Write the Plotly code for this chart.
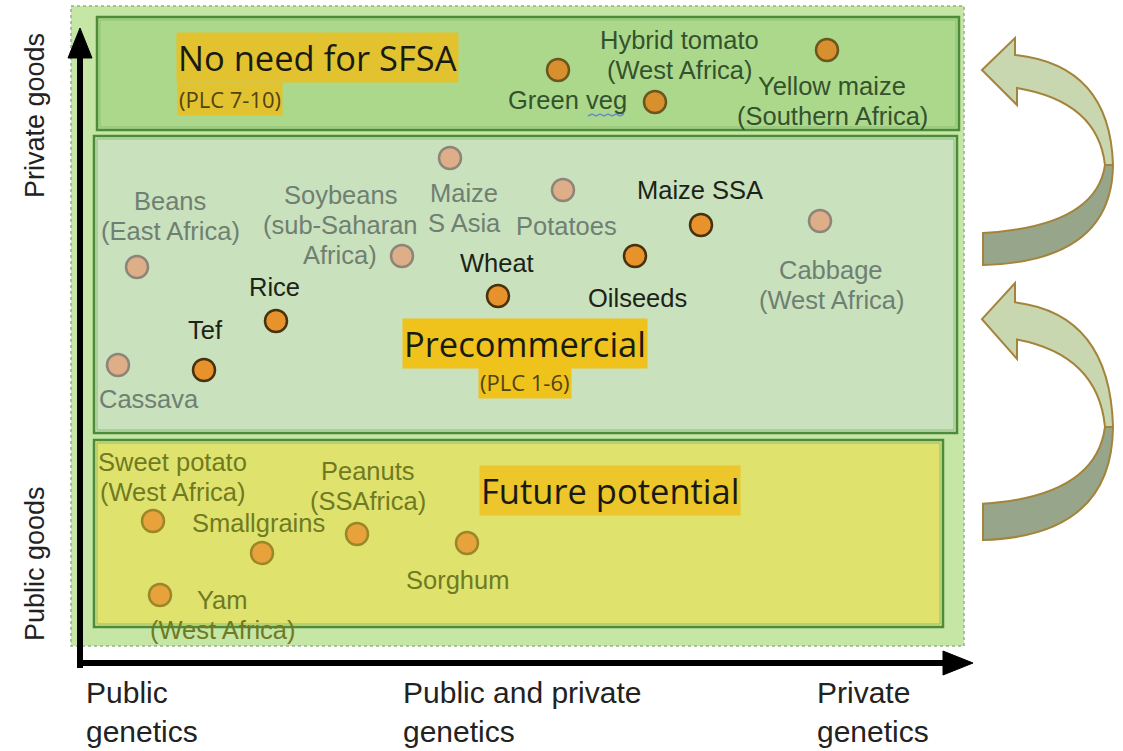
import plotly.graph_objects as go

W, H = 1123, 751

# ---------------- data ----------------
crop_names = ["Green veg", "Hybrid tomato\n(West Africa)", "Yellow maize\n(Southern Africa)",
              "Maize\nS Asia", "Potatoes", "Beans\n(East Africa)",
              "Soybeans\n(sub-Saharan\nAfrica)", "Maize SSA", "Cabbage\n(West Africa)",
              "Oilseeds", "Wheat", "Rice", "Tef", "Cassava",
              "Sweet potato\n(West Africa)", "Smallgrains", "Peanuts\n(SSAfrica)",
              "Sorghum", "Yam\n(West Africa)"]
crop_x = [558, 655, 827, 450, 563, 137, 402, 701, 820, 635, 498, 276, 204, 118,
          153, 262, 357, 467, 160]
crop_y = [70, 102, 50, 158, 190, 267, 256, 225, 221, 256, 296, 321, 370, 365,
          521, 553, 534, 543, 595]
crop_group = ["top", "top", "top", "pale", "pale", "pale", "pale", "dark", "pale",
              "dark", "dark", "dark", "dark", "pale",
              "bottom", "bottom", "bottom", "bottom", "bottom"]
label_x = [567, 679, 832, 464, 566, 170, 340, 700, 831, 637, 497, 274, 205, 149,
           172, 258, 368, 457, 222]
label_y = [100, 40, 86, 193, 226, 201, 195, 190, 270, 298, 263, 287, 330, 399,
           462, 523, 471, 580, 600]

zone_names = ["No need for SFSA", "Precommercial", "Future potential"]
zone_sub = ["(PLC 7-10)", "(PLC 1-6)", ""]
zone_x0 = [97, 94, 94]
zone_x1 = [959, 957, 943]
zone_y0 = [17, 136, 440]
zone_y1 = [130, 433, 627]
title_x = [317, 525, 610]
title_y = [57, 343, 490]
sub_x = [177, 525, 0]
sub_y = [99, 382, 0]

y_axis_labels = ["Private goods", "Public goods"]
y_axis_pos = [116, 564]
x_axis_labels = ["Public\ngenetics", "Public and private\ngenetics", "Private\ngenetics"]
x_axis_pos = [84, 401, 815]

# ---------------- styles ----------------
dot_fill = {"top": "#d8902f", "pale": "#deae89", "dark": "#e8922b", "bottom": "#e8a23b"}
dot_line = {"top": "#6b561c", "pale": "#8e857a", "dark": "#47320f", "bottom": "#9c8728"}
text_col = {"top": "#34522c", "pale": "#6f7f72", "dark": "#1c2318", "bottom": "#6f7a22"}
zone_fill = ["#acd88c", "#c9e1bd", "#dfe36d"]
hl_col = ["#e2c22f", "#efc21c", "#ecc62a"]
LINE_GAP = 30

fig = go.Figure()

shapes = []
# outer background
shapes.append(dict(type="rect", x0=71, x1=964, y0=6, y1=646, fillcolor="#c5e6a5",
                   line=dict(color="#93b386", width=1.5, dash="dot"), layer="below"))
for i in range(3):
    shapes.append(dict(type="rect", x0=zone_x0[i], x1=zone_x1[i], y0=zone_y0[i], y1=zone_y1[i],
                       fillcolor=zone_fill[i], line=dict(color="#4d8a3b", width=2.5), layer="below"))
    shapes.append(dict(type="rect", x0=zone_x0[i] + 3, x1=zone_x1[i] - 3, y0=zone_y0[i] + 3,
                       y1=zone_y1[i] - 3, line=dict(color="#8cbf74", width=1), layer="below"))

# axis arrows
shapes.append(dict(type="line", x0=80, x1=80, y0=668, y1=52, line=dict(color="black", width=6)))
shapes.append(dict(type="path", path="M 80,28 L 68,58 L 92,58 Z", fillcolor="black",
                   line=dict(color="black", width=1)))
shapes.append(dict(type="line", x0=77, x1=948, y0=663, y1=663, line=dict(color="black", width=6)))
shapes.append(dict(type="path", path="M 973,663 L 943,651 L 943,675 Z", fillcolor="black",
                   line=dict(color="black", width=1)))

# curved arrows on the right
def ribbon(top, bottom):
    h = bottom - top
    Y = lambda f: round(top + f * h, 1)
    light = (f"M 982,{Y(.141)} L 1015,{Y(0)} L 1015,{Y(.075)} "
             f"Q 1110,{Y(.12)} 1113,{Y(.56)} L 1105,{Y(.56)} "
             f"Q 1098,{Y(.28)} 1017,{Y(.22)} L 1017,{Y(.295)} Z")
    dark = (f"M 1113,{Y(.56)} Q 1112,{Y(.985)} 983,{Y(1)} L 983,{Y(.859)} "
            f"Q 1096,{Y(.83)} 1105,{Y(.56)} Z")
    return light, dark

for top, bottom in [(38, 265), (283, 540)]:
    lp, dp = ribbon(top, bottom)
    shapes.append(dict(type="path", path=lp, fillcolor="#c9d7b1",
                       line=dict(color="#a3843a", width=2)))
    shapes.append(dict(type="path", path=dp, fillcolor="#97a68b",
                       line=dict(color="#a3843a", width=2)))

# spell-check underline under "veg"
shapes.append(dict(type="path", path="M 588,116 L 592,114 L 596,116 L 600,114 L 604,116 L 608,114 L 612,116 L 616,114 L 620,116 L 624,114",
                   line=dict(color="#6a8fc8", width=1.5)))

# dots
for g in ["pale", "dark", "top", "bottom"]:
    idx = [i for i, gg in enumerate(crop_group) if gg == g]
    fig.add_trace(go.Scatter(
        x=[crop_x[i] for i in idx], y=[crop_y[i] for i in idx], mode="markers",
        marker=dict(size=22, color=dot_fill[g], line=dict(color=dot_line[g], width=2.5)),
        hoverinfo="text", text=[crop_names[i].replace("\n", " ") for i in idx],
        showlegend=False))

ann = []
LAB_FONT = "Liberation Sans, Arial, sans-serif"
for i, name in enumerate(crop_names):
    for k, line in enumerate(name.split("\n")):
        ann.append(dict(x=label_x[i], y=label_y[i] + k * LINE_GAP, text=line, showarrow=False,
                        xanchor="center", yanchor="middle",
                        font=dict(family=LAB_FONT, size=25.5, color=text_col[crop_group[i]])))

TITLE_FONT = "Open Sans, Lato, sans-serif"
for i in range(3):
    ann.append(dict(x=title_x[i], y=title_y[i], text=zone_names[i], showarrow=False,
                    xanchor="center", yanchor="middle", bgcolor=hl_col[i], borderpad=1,
                    font=dict(family=TITLE_FONT, size=34.5, color="#1a1a14")))
    if zone_sub[i]:
        ann.append(dict(x=sub_x[i], y=sub_y[i], text=zone_sub[i], showarrow=False,
                        xanchor="left" if i == 0 else "center", yanchor="middle",
                        bgcolor=hl_col[i], borderpad=1,
                        font=dict(family=TITLE_FONT, size=22, color="#4e4412")))

for t, yp in zip(y_axis_labels, y_axis_pos):
    ann.append(dict(x=35, y=yp, text=t, showarrow=False, textangle=-90,
                    xanchor="center", yanchor="middle",
                    font=dict(family=LAB_FONT, size=27, color="#222222")))
for t, xp in zip(x_axis_labels, x_axis_pos):
    for k, line in enumerate(t.split("\n")):
        ann.append(dict(x=xp, y=692 + k * 39, text=line, showarrow=False,
                        xanchor="left", yanchor="middle",
                        font=dict(family=LAB_FONT, size=30, color="#222222")))

fig.update_layout(
    width=W, height=H, margin=dict(l=0, r=0, t=0, b=0),
    paper_bgcolor="white", plot_bgcolor="white",
    xaxis=dict(range=[0, W], visible=False, fixedrange=True),
    yaxis=dict(range=[H, 0], visible=False, fixedrange=True),
    shapes=shapes, annotations=ann,
)

fig.write_html("out.html", config={"displayModeBar": False},
               post_script="document.body.style.margin='0px';document.body.style.overflow='hidden';")
